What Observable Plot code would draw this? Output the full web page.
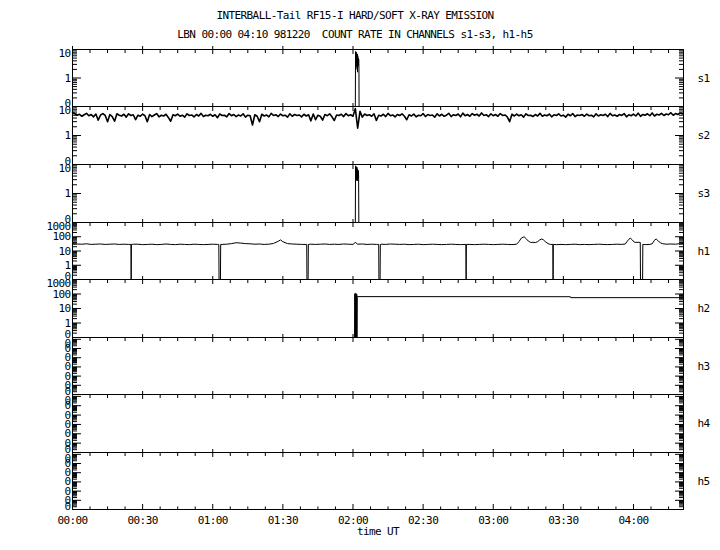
<!DOCTYPE html>
<html><head><meta charset="utf-8">
<script src="https://cdn.jsdelivr.net/npm/d3@7"></script>
<script src="https://cdn.jsdelivr.net/npm/@observablehq/plot@0.6"></script>
<style>
body{margin:0;background:#fff;}
#chart{position:relative;width:720px;height:550px;background:#fff;font-family:"DejaVu Sans Mono",monospace;color:#000;overflow:hidden}
.t{position:absolute;white-space:pre;font-size:11px;letter-spacing:-0.6px;line-height:12px;left:0;width:710px;text-align:center}
#chart svg{position:absolute;left:0;overflow:visible}
#chart svg text{fill:#000}
</style></head><body><div id="chart"></div>
<script>
// ---- text ----
const title = "INTERBALL-Tail RF15-I HARD/SOFT X-RAY EMISSION";
const subtitle = "LBN 00:00 04:10 981220  COUNT RATE IN CHANNELS s1-s3, h1-h5";
const xLabel = "time UT";

// ---- x axis (minutes after 00:00 UT) ----
const xDomain = [0, 261.4];
const xTicksMajor = [0, 30, 60, 90, 120, 150, 180, 210, 240];
const xTickLabels = ["00:00","00:30","01:00","01:30","02:00","02:30","03:00","03:30","04:00"];
const xMinorStep = 7.5;

// ---- channels ----
const channels = ["s1","s2","s3","h1","h2","h3","h4","h5"];
const sDomain = [0.1, 10];
const hDomain = [0.1, 1000];
const hEmptyDomain = [1e-7, 0.158];

// ---- series ----
const s1Time = [0, 121.0, 121.1, 121.15, 121.25, 121.35, 121.45, 121.55, 121.65, 121.75, 121.85, 121.95, 122.05, 122.15, 122.25, 122.35, 122.45, 122.55, 122.6, 261.4];
const s1Val  = [0, 0, 8.5, 3, 7.5, 2.5, 8, 3, 6.5, 2, 7, 1.6, 6, 2.5, 5, 3, 4.5, 2.5, 0, 0];

// s2: one reading per minute from 00:00
const s2Val = [
 6.2,5.6,5.0,5.4,4.6,5.2,5.8,4.8,5.3,4.4,5.5,3.4,5.1,5.7,4.9,3.0,5.3,4.5,3.1,5.6,
 5.0,4.7,5.4,4.3,5.6,4.9,5.2,3.5,5.0,4.6,5.5,4.8,3.0,5.3,4.5,5.1,5.7,4.4,5.0,4.7,
 5.4,4.2,3.1,5.2,4.8,5.5,4.6,5.0,4.3,5.6,4.9,5.1,4.4,5.3,4.7,5.8,4.5,5.0,4.8,5.4,
 4.6,5.2,4.1,5.5,4.9,5.0,4.4,5.7,4.8,5.3,4.5,5.1,4.7,5.6,4.3,5.0,4.8,2.3,5.2,4.6,
 3.0,5.4,4.7,5.1,4.4,5.8,4.9,5.2,4.5,5.5,4.8,5.0,4.3,5.6,4.6,5.3,4.9,5.1,4.4,5.4,
 4.7,5.2,3.2,5.5,3.5,5.0,4.6,3.4,5.3,4.8,5.6,4.4,3.3,5.1,4.9,5.4,4.5,5.7,4.8,5.2,
 4.6,8.5,1.8,6.8,4.3,5.5,4.9,5.2,4.6,5.6,3.3,5.0,4.7,5.4,4.5,5.8,4.8,5.1,4.4,5.3,
 4.9,5.6,4.6,3.5,5.2,4.7,5.5,4.4,5.0,4.8,5.7,4.5,5.3,4.9,5.1,4.3,5.6,4.7,5.4,4.6,
 5.0,5.8,4.5,5.2,4.9,5.5,4.4,5.9,4.8,5.3,4.6,5.7,5.0,5.4,4.7,6.0,4.9,5.2,4.5,5.6,
 4.8,5.3,4.6,5.7,4.9,5.1,4.4,3.0,5.4,4.7,5.5,4.8,5.2,4.3,5.6,4.9,5.0,4.5,5.3,4.7,
 5.8,4.6,5.1,4.8,5.5,4.4,5.2,4.9,5.6,4.7,5.0,4.3,5.4,4.8,5.7,4.5,5.1,4.9,5.3,4.6,
 5.5,4.8,5.0,4.4,5.6,4.7,5.2,4.9,5.4,4.5,5.8,4.8,5.1,4.6,5.3,4.9,5.7,4.4,5.2,4.8,
 5.5,4.7,5.9,4.6,5.3,5.0,5.6,4.8,6.0,4.7,5.4,5.1,5.8,4.9,5.5,5.2,6.1,5.0,5.7,5.3,
 6.0,5.6];
const s2Step = 1;

const s3Time = [0, 121.0, 121.1, 121.2, 121.3, 121.4, 121.5, 121.6, 121.7, 121.8, 121.9, 122.0, 122.1, 122.2, 122.3, 122.4, 122.5, 261.4];
const s3Val  = [0, 0, 9, 3, 8.5, 3.5, 7.5, 2.8, 8, 3.2, 7, 2.7, 6.5, 3.5, 6, 4, 0, 0];

const h1Time = [0,2,4,6,8,10,12,14,16,18,20,22,24,25.0,25.1,25.2,26,28,30,32,34,36,38,40,42,44,46,48,50,52,54,56,58,60,62,62.6,62.7,63.3,63.4,64,66,68,70,72,74,76,78,80,82,84,86,88,89,90,92,94,96,98,100.2,100.3,100.8,100.9,102,104,106,108,110,112,114,116,118,120,121,122,124,126,128,130,131.0,131.1,131.6,131.7,132,134,136,138,140,142,144,146,148,150,152,154,156,158,160,162,164,166,168.3,168.4,168.5,170,172,174,176,178,180,182,184,186,188,190,191,192,193.2,194,195,196,197,198,199,200,200.8,201.5,202.5,203.5,204.4,205.5,205.6,205.7,207,209,211,213,215,217,219,221,223,225,227,229,231,233,235,236.5,237.4,238.6,239.5,240.3,241,242,242.9,243.0,243.9,244.0,245,247,248,248.9,249.7,250.6,251.5,252.3,254,256,258,260,261.4];
const h1Val  = [33,31,30,32,29,30,31,29,30,31,29,30,29,29,0,29,30,30,28,29,30,28,29,31,29,28,30,29,28,30,29,28,29,30,29,29,0,0,29,29,30,33,38,36,33,32,30,31,29,30,34,48,60,45,33,31,30,29,29,0,0,29,30,29,30,31,29,30,29,31,30,29,40,30,31,29,30,29,29,0,0,29,30,29,31,30,29,30,28,29,30,28,29,30,29,28,29,30,29,28,29,0,29,29,28,29,30,29,28,29,30,29,28,30,45,80,100,75,50,40,41,39,45,62,70,60,42,33,29,29,0,29,28,29,28,29,30,28,29,28,29,30,29,28,29,30,29,31,50,82,60,42,40,41,40,0,0,29,28,29,32,55,70,50,38,33,30,31,30,33,34];

const h2Time = [0, 120.7, 120.8, 120.9, 121.0, 121.1, 121.2, 121.3, 121.4, 121.5, 121.6, 121.7, 121.8, 122.0, 213.0, 213.1, 261.4];
const h2Val  = [0, 0, 105, 0, 110, 0, 100, 0, 105, 0, 95, 0, 70, 66, 65, 56, 56];

const h3Time = [0, 261.4], h3Val = [0, 0];
const h4Time = [0, 261.4], h4Val = [0, 0];
const h5Time = [0, 261.4], h5Val = [0, 0];

// ---- build ----
const chart = document.getElementById("chart");
for (const [txt, top] of [[title, 10], [subtitle, 29]]) {
  const d = document.createElement("div");
  d.className = "t"; d.style.top = top + "px"; d.textContent = txt;
  chart.appendChild(d);
}

const series = [
  [s1Time, s1Val, sDomain, 1],
  [s2Val.map((_, i) => i * s2Step), s2Val, sDomain, 1.6],
  [s3Time, s3Val, sDomain, 1],
  [h1Time, h1Val, hDomain, 1],
  [h2Time, h2Val, hDomain, 1],
  [h3Time, h3Val, hEmptyDomain, 1],
  [h4Time, h4Val, hEmptyDomain, 1],
  [h5Time, h5Val, hEmptyDomain, 1]
];

const tops = [49, 106, 164, 222, 279, 337, 394, 452, 509];
const xMinor = d3.range(0, xDomain[1], xMinorStep).filter(t => t % 30 !== 0);
const fmtY = v => String(Math.floor(v + 1e-9));
const none = () => "";

channels.forEach((name, i) => {
  const [times, vals, domain, sw] = series[i];
  const [lo, hi] = domain;
  const last = i === channels.length - 1;
  const h = tops[i + 1] - tops[i];
  const mb = last ? 41 : 0;
  const data = times.map((t, j) => ({t, v: Math.max(vals[j], lo)}));
  const majors = [], minors = [];
  for (let k = Math.floor(Math.log10(lo)); k <= Math.ceil(Math.log10(hi)); k++) {
    const b = Math.pow(10, k);
    if (b >= lo * 0.9999 && b <= hi * 1.0001) majors.push(b);
    for (let m = 2; m <= 9; m++) {
      const v = m * b;
      if (v >= lo * 0.9999 && v <= hi * 1.0001) minors.push(v);
    }
  }
  const lgHi = Math.log10(hi), lgLo = Math.log10(lo);
  const labTop = majors.filter(v => lgHi - Math.log10(v) < 0.3);
  const labBot = majors.filter(v => Math.log10(v) - lgLo < 0.3);
  const labMid = majors.filter(v => !labTop.includes(v) && !labBot.includes(v));
  const yl = (arr, anchor) => Plot.text(arr, {y: d => d, text: fmtY, frameAnchor: "left", dx: -2, textAnchor: "end", lineAnchor: anchor, fill: "black"});

  const marks = [
    Plot.frame({stroke: "black"}),
    Plot.axisX({anchor: "top", ticks: xMinor, tickSize: -3, tickFormat: none, label: null}),
    Plot.axisX({anchor: "top", ticks: xTicksMajor, tickSize: -4, tickFormat: none, label: null}),
    Plot.axisX({anchor: "top", ticks: xTicksMajor, tickSize: 4, tickFormat: none, label: null}),
    Plot.axisY({anchor: "left", ticks: minors, tickSize: -5, tickFormat: none, label: null}),
    Plot.axisY({anchor: "left", ticks: majors, tickSize: -9, tickFormat: none, label: null}),
    Plot.axisY({anchor: "right", ticks: minors, tickSize: -5, tickFormat: none, label: null}),
    Plot.axisY({anchor: "right", ticks: majors, tickSize: -9, tickFormat: none, label: null}),
    yl(labTop, "top"), yl(labMid, "middle"), yl(labBot, "bottom"),
    Plot.line(data, {x: "t", y: "v", stroke: "black", strokeWidth: sw}),
    Plot.text([name], {text: d => d, frameAnchor: "right", dx: 14, textAnchor: "start", fill: "black"})
  ];
  if (last) {
    marks.push(
      Plot.axisX({anchor: "bottom", ticks: xMinor, tickSize: -2.5, tickFormat: none, label: null}),
      Plot.axisX({anchor: "bottom", ticks: xTicksMajor, tickSize: -5, tickFormat: none, label: null}),
      Plot.axisX({anchor: "bottom", ticks: xTicksMajor, tickSize: 0, tickPadding: 7, fill: "black", tickFormat: d => xTickLabels[xTicksMajor.indexOf(d)], label: null}),
      Plot.text([xLabel], {text: d => d, frameAnchor: "bottom", dy: 25, fill: "black"})
    );
  }
  const svg = Plot.plot({
    width: 720, height: h + mb,
    marginLeft: 72, marginRight: 37, marginTop: 0, marginBottom: mb,
    x: {domain: xDomain, label: null},
    y: {type: "log", domain, label: null},
    style: {background: "transparent", overflow: "visible", fontFamily: "'DejaVu Sans Mono', monospace", fontSize: "11px", letterSpacing: "-0.6px", color: "black"},
    marks
  });
  svg.style.position = "absolute";
  svg.style.top = tops[i] + "px";
  svg.style.left = "0px";
  chart.appendChild(svg);
});
</script></body></html>
